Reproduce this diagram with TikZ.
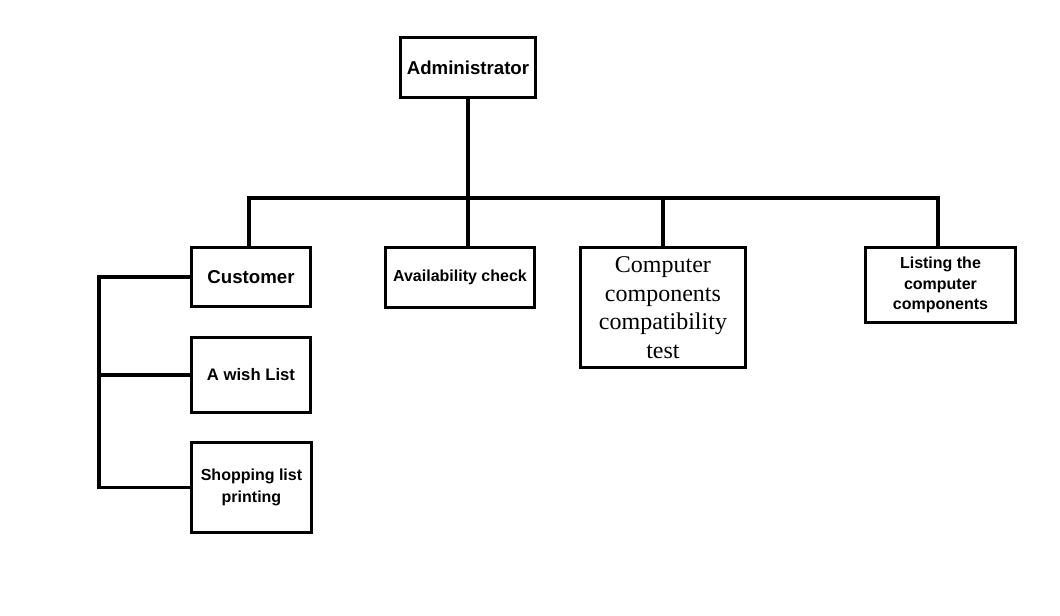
\documentclass[tikz,border=0pt]{standalone}
\usepackage{fontspec}
\setmainfont{Liberation Sans}
\newfontfamily\serifcc{Liberation Serif}
\begin{document}
\begin{tikzpicture}[x=0.75pt,y=-0.75pt,
  box/.style={draw,line width=2.2pt,inner sep=0pt,align=center,anchor=north west},
  link/.style={line width=2.6pt}]
\useasboundingbox (0,0) rectangle (1060,616);
\node[box,minimum width=135*0.75pt,minimum height=60*0.75pt,font=\bfseries\fontsize{14}{17}\selectfont] (adm) at (399,36) {Administrator};
\node[box,minimum width=119*0.75pt,minimum height=59*0.75pt,font=\bfseries\fontsize{14}{16}\selectfont] (cus) at (190,246) {Customer};
\node[box,minimum width=149*0.75pt,minimum height=60*0.75pt,font=\bfseries\fontsize{12}{14}\selectfont] (ava) at (384,246) {Availability check};
\node[box,minimum width=165*0.75pt,minimum height=120*0.75pt,font=\serifcc\fontsize{18}{21.4}\selectfont] (cmp) at (579,246) {Computer\\components\\compatibility\\test};
\node[box,minimum width=150*0.75pt,minimum height=75*0.75pt,font=\bfseries\fontsize{12}{15.5}\selectfont] (lst) at (864,246) {Listing the\\computer\\components};
\node[box,minimum width=119*0.75pt,minimum height=75*0.75pt,font=\bfseries\fontsize{12.5}{14}\selectfont] (wsh) at (190,336) {A wish List};
\node[box,minimum width=120*0.75pt,minimum height=90*0.75pt,font=\bfseries\fontsize{12}{16}\selectfont] (shp) at (190,441) {Shopping list\\printing};
\coordinate (busL) at (249,198);
\coordinate (busR) at (938,198);
\coordinate (brk) at (99,276);
\draw[link] (adm.south) -- (adm.south |- busL);
\draw[link] (cus.north -| busL) -- (busL) -- (busR) -- (lst.north -| busR);
\draw[link] (adm.south |- busL) -- (ava.north -| adm.south);
\draw[link] (cmp.north |- busL) -- (cmp.north);
\draw[link] (cus.west) -- (brk |- cus.west) -- (brk |- shp.west) -- (shp.west);
\draw[link] (brk |- wsh.west) -- (wsh.west);
\end{tikzpicture}
\end{document}
